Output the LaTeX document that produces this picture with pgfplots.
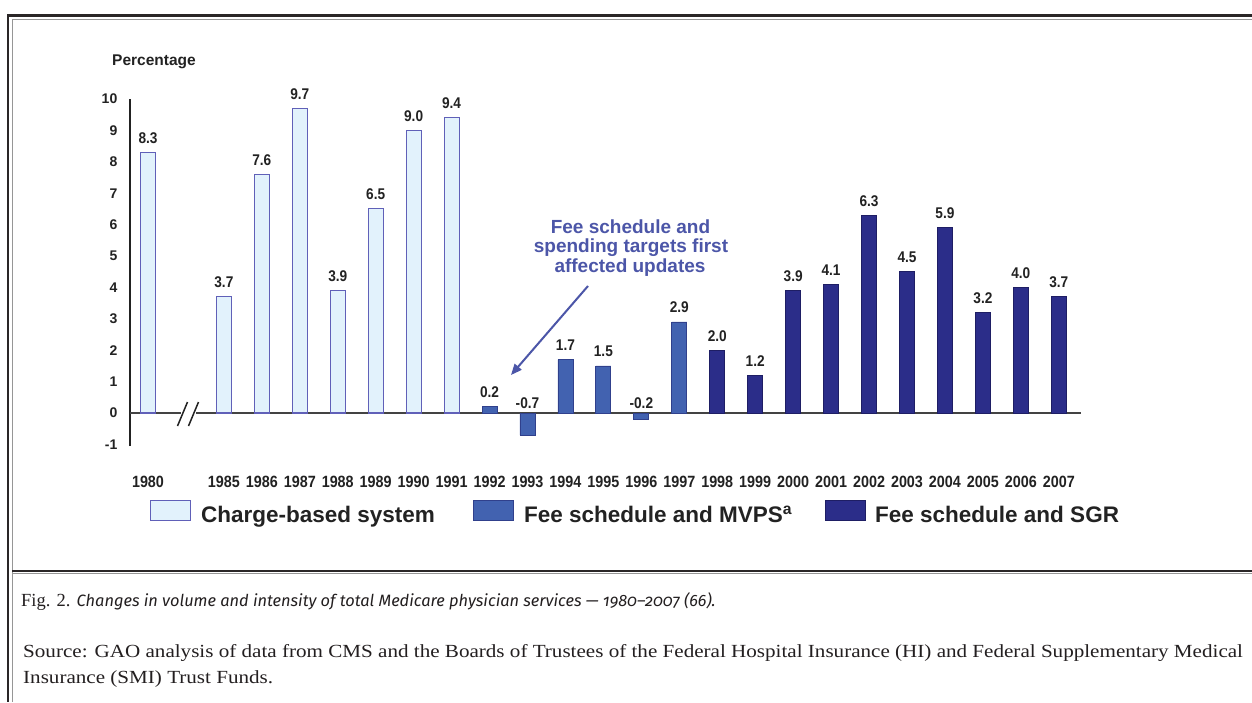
\documentclass[border=0pt]{standalone}
\usepackage{fontspec}
\setmainfont{Liberation Sans}
\usepackage{pgfplots}
\pgfplotsset{compat=1.18}
\usetikzlibrary{arrows.meta}
\newfontfamily\narrowfont{Liberation Sans}[FakeStretch=0.88]
\newfontfamily\capserif{Liberation Serif}
\newfontfamily\capserifwide{Liberation Serif}[FakeStretch=1.14]
\newfontfamily\capsans{Fira Sans}[Numbers=OldStyle]
\definecolor{chfill}{RGB}{226,242,252}
\definecolor{chdraw}{RGB}{96,96,184}
\definecolor{mvfill}{RGB}{66,98,176}
\definecolor{mvdraw}{RGB}{48,64,140}
\definecolor{sgfill}{RGB}{43,45,137}
\definecolor{sgdraw}{RGB}{30,30,100}
\definecolor{anno}{RGB}{76,86,168}
\definecolor{lab}{RGB}{34,34,34}
\definecolor{framedark}{RGB}{42,38,39}
\definecolor{framegray}{RGB}{150,150,150}
\definecolor{captext}{RGB}{35,31,32}
\begin{document}
\begin{tikzpicture}[x=1pt,y=1pt]
\fill[white] (0,0) rectangle (1252,-702);
% frame
\draw[framedark, line width=2.6pt] (7.2,-15.3) -- (1252,-15.3);
\draw[framegray, line width=1pt] (11.8,-19.2) -- (1252,-19.2);
\draw[framedark, line width=2pt] (8.3,-14) -- (8.3,-702);
\draw[framegray, line width=1pt] (12.3,-19.2) -- (12.3,-702);
\draw[framedark, line width=2pt] (12,-570.8) -- (1252,-570.8);
\draw[framegray, line width=0.8pt] (12,-573.3) -- (1252,-573.3);

\begin{axis}[
  at={(130pt,-446pt)}, anchor=south west,
  x=37.95pt, y=31.4pt,
  xmin=-0.474, xmax=24.58, ymin=-1.05, ymax=10,
  axis y line*=left, axis x line*=bottom,
  x axis line style={draw=none},
  y axis line style={line width=1.4pt, color=lab},
  xtick={0,2,3,...,24},
  xticklabels={1980,1985,1986,1987,1988,1989,1990,1991,1992,1993,1994,1995,1996,1997,1998,1999,2000,2001,2002,2003,2004,2005,2006,2007},
  ytick={-1,0,...,10},
  major tick length=0pt,
  xticklabel style={anchor=base, yshift=-41pt, font=\narrowfont\bfseries\fontsize{16.3}{17}\selectfont, text=lab},
  yticklabel style={anchor=east, inner sep=0pt, xshift=-12.5pt, font=\bfseries\fontsize{14}{15}\selectfont, text=lab},
  /pgf/number format/assume math mode=true,
  clip=false,
  legend columns=3,
  legend cell align=left,
  legend style={
    at={(0.021,-0.1556)}, anchor=north west,
    draw=none, fill=none, inner sep=0pt, outer sep=0pt,
    font=\bfseries\fontsize{22.5}{24}\selectfont, text=lab,
    nodes={inner sep=0pt, outer sep=0pt},
    /tikz/column 1/.style={column sep=10pt},
    /tikz/column 2/.style={column sep=38pt},
    /tikz/column 3/.style={column sep=10pt},
    /tikz/column 4/.style={column sep=33pt},
    /tikz/column 5/.style={column sep=9pt},
  },
  mylegend/.style={legend image code/.code={\draw[##1, line width=1.1pt] (0pt,-5.6pt) rectangle (40pt,14.4pt);}},
  lbl/.style={
    nodes near coords={\pgfmathprintnumber[fixed,fixed zerofill,precision=1,assume math mode=true]{\pgfplotspointmeta}},
    visualization depends on={y \as \rawy},
    nodes near coords style={anchor=base, inner sep=0pt, text=lab,
      font=\narrowfont\bfseries\fontsize{15.5}{16}\selectfont,
      yshift={(\rawy<0)*(-31.4*(\rawy)+4.5)+(\rawy>=0)*9}},
  },
]
\draw[line width=1.4pt, color=lab!85] (axis cs:-0.474,0) -- (axis cs:24.58,0);
\addplot[ybar, bar width=15pt, fill=chfill, draw=chdraw, line width=1.1pt, mylegend, lbl]
  coordinates {(0,8.3)(2,3.7)(3,7.6)(4,9.7)(5,3.9)(6,6.5)(7,9.0)(8,9.4)};
\addlegendentry{Charge-based system}
\addplot[ybar, bar width=15pt, fill=mvfill, draw=mvdraw, line width=0.8pt, mylegend, lbl]
  coordinates {(9,0.2)(10,-0.7)(11,1.7)(12,1.5)(13,-0.2)(14,2.9)};
\addlegendentry{Fee schedule and MVPS\textsuperscript{a}}
\addplot[ybar, bar width=15pt, fill=sgfill, draw=sgdraw, line width=0.8pt, mylegend, lbl]
  coordinates {(15,2.0)(16,1.2)(17,3.9)(18,4.1)(19,6.3)(20,4.5)(21,5.9)(22,3.2)(23,4.0)(24,3.7)};
\addlegendentry{Fee schedule and SGR}
\end{axis}

% axis break
\fill[white] (181,-409) rectangle (196,-417);
\draw[lab, line width=1.5pt] (177.5,-426) -- (187.5,-402);
\draw[lab, line width=1.5pt] (188.5,-426) -- (198.5,-402);

\node[anchor=base west, inner sep=0pt, font=\bfseries\fontsize{15.5}{16}\selectfont, text=lab] at (112,-65) {Percentage};

% annotation
\node[anchor=base, inner sep=0pt, text=anno, font=\bfseries\fontsize{19}{20}\selectfont] at (630.5,-233.3) {Fee schedule and};
\node[anchor=base, inner sep=0pt, text=anno, font=\bfseries\fontsize{19}{20}\selectfont] at (631,-252.7) {spending targets first};
\node[anchor=base, inner sep=0pt, text=anno, font=\bfseries\fontsize{19}{20}\selectfont] at (630,-272.7) {affected updates};
\draw[anno, line width=2pt, -{Triangle[length=11pt,width=9pt]}] (588,-286) -- (511,-375);

% caption
\node[anchor=base west, inner sep=0pt, text=captext, font=\capserif\fontsize{18.5}{20}\selectfont] at (21,-606) {Fig. 2. {\capsans\itshape\fontsize{16.4}{20}\selectfont Changes in volume and intensity of total Medicare physician services — 1980–2007 (66).}};
\node[anchor=base west, inner sep=0pt, text=captext, font=\capserifwide\fontsize{18.5}{20}\selectfont] at (23,-657) {Source: GAO analysis of data from CMS and the Boards of Trustees of the Federal Hospital Insurance (HI) and Federal Supplementary Medical};
\node[anchor=base west, inner sep=0pt, text=captext, font=\capserifwide\fontsize{18.5}{20}\selectfont] at (23,-683) {Insurance (SMI) Trust Funds.};

\pgfresetboundingbox
\useasboundingbox (0,0) rectangle (1252,-702);
\end{tikzpicture}
\end{document}
